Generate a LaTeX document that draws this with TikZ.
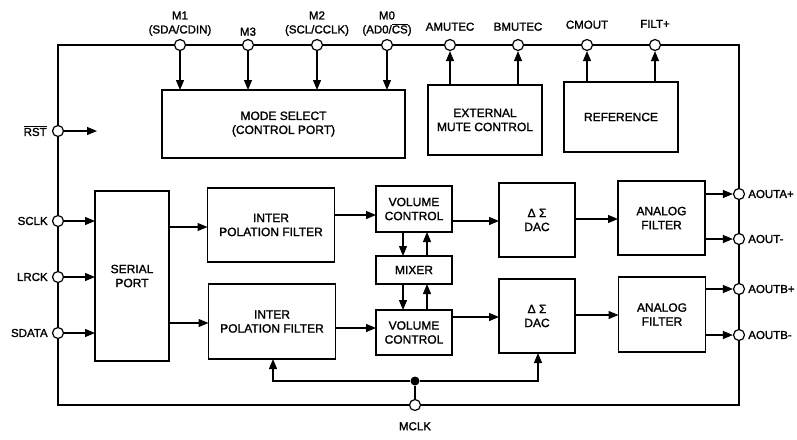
\documentclass[tikz,border=0pt]{standalone}
\usepackage{fontspec}
\setmainfont{Liberation Sans}[FakeBold=1.5]
\usetikzlibrary{arrows.meta,calc}
\begin{document}
\begin{tikzpicture}[x=1pt,y=-1pt,
  blk/.style={draw, line width=1.4pt, align=center, inner sep=0pt, outer sep=0pt,
    font=\fontsize{12}{14}\selectfont},
  pinc/.style={circle, draw, line width=1.2pt, fill=white, minimum size=11pt, inner sep=0pt},
  sig/.style={line width=1.2pt, -{Triangle[length=10pt,width=8pt]}},
  wire/.style={line width=1.2pt},
  border/.style={line width=2.6pt},
  lbl/.style={font=\fontsize{11.5}{14}\selectfont, align=center, inner sep=1pt}]
\useasboundingbox (0,0) rectangle (797,439);

% outer border
\draw[border] (58,45) rectangle (739,405);

% blocks
\node[blk, minimum width=243pt, minimum height=68pt] (mode) at (283.5,124) {MODE SELECT\\(CONTROL PORT)};
\node[blk, minimum width=114pt, minimum height=70pt] (mute) at (485,120) {EXTERNAL\\MUTE CONTROL};
\node[blk, minimum width=114pt, minimum height=70pt] (ref) at (621,117) {REFERENCE};
\node[blk, minimum width=74pt, minimum height=170pt] (serial) at (132,276) {SERIAL\\PORT};
\node[blk, minimum width=127pt, minimum height=74pt] (if1) at (271,225) {INTER\\POLATION FILTER};
\node[blk, minimum width=127pt, minimum height=75pt] (if2) at (272,321.5) {INTER\\POLATION FILTER};
\node[blk, minimum width=76pt, minimum height=46pt] (vol1) at (414,209) {VOLUME\\CONTROL};
\node[blk, minimum width=76pt, minimum height=28pt] (mix) at (414,270) {MIXER};
\node[blk, minimum width=76pt, minimum height=45pt] (vol2) at (414,332.5) {VOLUME\\CONTROL};
\node[blk, minimum width=76pt, minimum height=74pt] (dac1) at (537,220) {Δ Σ\\DAC};
\node[blk, minimum width=76pt, minimum height=74pt] (dac2) at (537,316) {Δ Σ\\DAC};
\node[blk, minimum width=87pt, minimum height=74pt] (af1) at (661.5,218) {ANALOG\\FILTER};
\node[blk, minimum width=87pt, minimum height=75pt] (af2) at (662,314.5) {ANALOG\\FILTER};

% pins
\node[pinc] (M1) at (180,45) {};
\node[pinc] (M3) at (248,45) {};
\node[pinc] (M2) at (317,45) {};
\node[pinc] (M0) at (387,45) {};
\node[pinc] (amute) at (450,45) {};
\node[pinc] (bmute) at (518,45) {};
\node[pinc] (cmout) at (587,45) {};
\node[pinc] (filt) at (655,45) {};
\node[pinc] (rst) at (58,131) {};
\node[pinc] (sclk) at (58,221) {};
\node[pinc] (lrck) at (58,277) {};
\node[pinc] (sdata) at (58,333) {};
\node[pinc] (aoap) at (739,194) {};
\node[pinc] (aoam) at (739,239) {};
\node[pinc] (aobp) at (739,289) {};
\node[pinc] (aobm) at (739,335) {};
\node[pinc] (mclk) at (415,405) {};
\node[circle, fill=black, minimum size=9pt, inner sep=0pt] (jct) at (415,381) {};

% pin labels
\node[lbl, anchor=south] at (180,37) {M1\\(SDA/CDIN)};
\node[lbl, anchor=south] at (248,37) {M3};
\node[lbl, anchor=south] at (317,37) {M2\\(SCL/CCLK)};
\node[lbl, anchor=south] at (387,37) {M0\\(AD0/$\overline{\hbox{CS}}$)};
\node[lbl, anchor=south] at (450,32) {AMUTEC};
\node[lbl, anchor=south] at (518,32) {BMUTEC};
\node[lbl, anchor=south] at (587,30) {CMOUT};
\node[lbl, anchor=south] at (655,29) {FILT+};
\node[lbl, anchor=east, xshift=-4pt] at (rst.west) {$\overline{\hbox{RST}}$};
\node[lbl, anchor=east, xshift=-3pt] at (sclk.west) {SCLK};
\node[lbl, anchor=east, xshift=-3pt] at (lrck.west) {LRCK};
\node[lbl, anchor=east, xshift=-3pt] at (sdata.west) {SDATA};
\node[lbl, anchor=west, xshift=2pt] at (aoap.east) {AOUTA+};
\node[lbl, anchor=west, xshift=2pt] at (aoam.east) {AOUT-};
\node[lbl, anchor=west, xshift=2pt] at (aobp.east) {AOUTB+};
\node[lbl, anchor=west, xshift=2pt] at (aobm.east) {AOUTB-};
\node[lbl, anchor=north] at (415,421) {MCLK};

% top connections
\foreach \p in {M1,M3,M2,M0} \draw[sig] (\p) -- (\p |- mode.north);
\draw[sig] (amute |- mute.north) -- (amute);
\draw[sig] (bmute |- mute.north) -- (bmute);
\draw[sig] (cmout |- ref.north) -- (cmout);
\draw[sig] (filt |- ref.north) -- (filt);

% reset
\coordinate (rstend) at (97,131);
\draw[sig] (rst) -- (rstend);

% serial inputs
\foreach \p in {sclk,lrck,sdata} \draw[sig] (\p) -- (\p -| serial.west);

% serial -> interpolation
\coordinate (s1) at (serial.east |- 0,227);
\coordinate (s2) at (serial.east |- 0,323);
\draw[sig] (s1) -- (s1 -| if1.west);
\draw[sig] (s2) -- (s2 -| if2.west);

% interpolation -> volume
\coordinate (i1) at (if1.east |- 0,215);
\coordinate (i2) at (if2.east |- 0,328);
\draw[sig] (i1) -- (i1 -| vol1.west);
\draw[sig] (i2) -- (i2 -| vol2.west);

% volume <-> mixer
\coordinate (xd) at (403,0);
\coordinate (xu) at (427,0);
\draw[sig] (xd |- vol1.south) -- (xd |- mix.north);
\draw[sig] (xu |- mix.north) -- (xu |- vol1.south);
\draw[sig] (xd |- mix.south) -- (xd |- vol2.north);
\draw[sig] (xu |- vol2.north) -- (xu |- mix.south);

% volume -> dac
\coordinate (v1) at (vol1.east |- 0,221);
\coordinate (v2) at (vol2.east |- 0,317);
\draw[sig] (v1) -- (v1 -| dac1.west);
\draw[sig] (v2) -- (v2 -| dac2.west);

% dac -> analog filter
\coordinate (d1) at (dac1.east |- 0,219);
\coordinate (d2) at (dac2.east |- 0,315);
\draw[sig] (d1) -- (d1 -| af1.west);
\draw[sig] (d2) -- (d2 -| af2.west);

% analog filter -> outputs
\foreach \p/\f in {aoap/af1,aoam/af1,aobp/af2,aobm/af2} \draw[sig] (\p -| \f.east) -- (\p);

% clock
\coordinate (cl) at (273,381);
\coordinate (cr) at (538,381);
\draw[wire] (mclk) -- (jct);
\draw[sig] (jct) -- (cl) -- (cl |- if2.south);
\draw[sig] (jct) -- (cr) -- (cr |- dac2.south);
\end{tikzpicture}
\end{document}
